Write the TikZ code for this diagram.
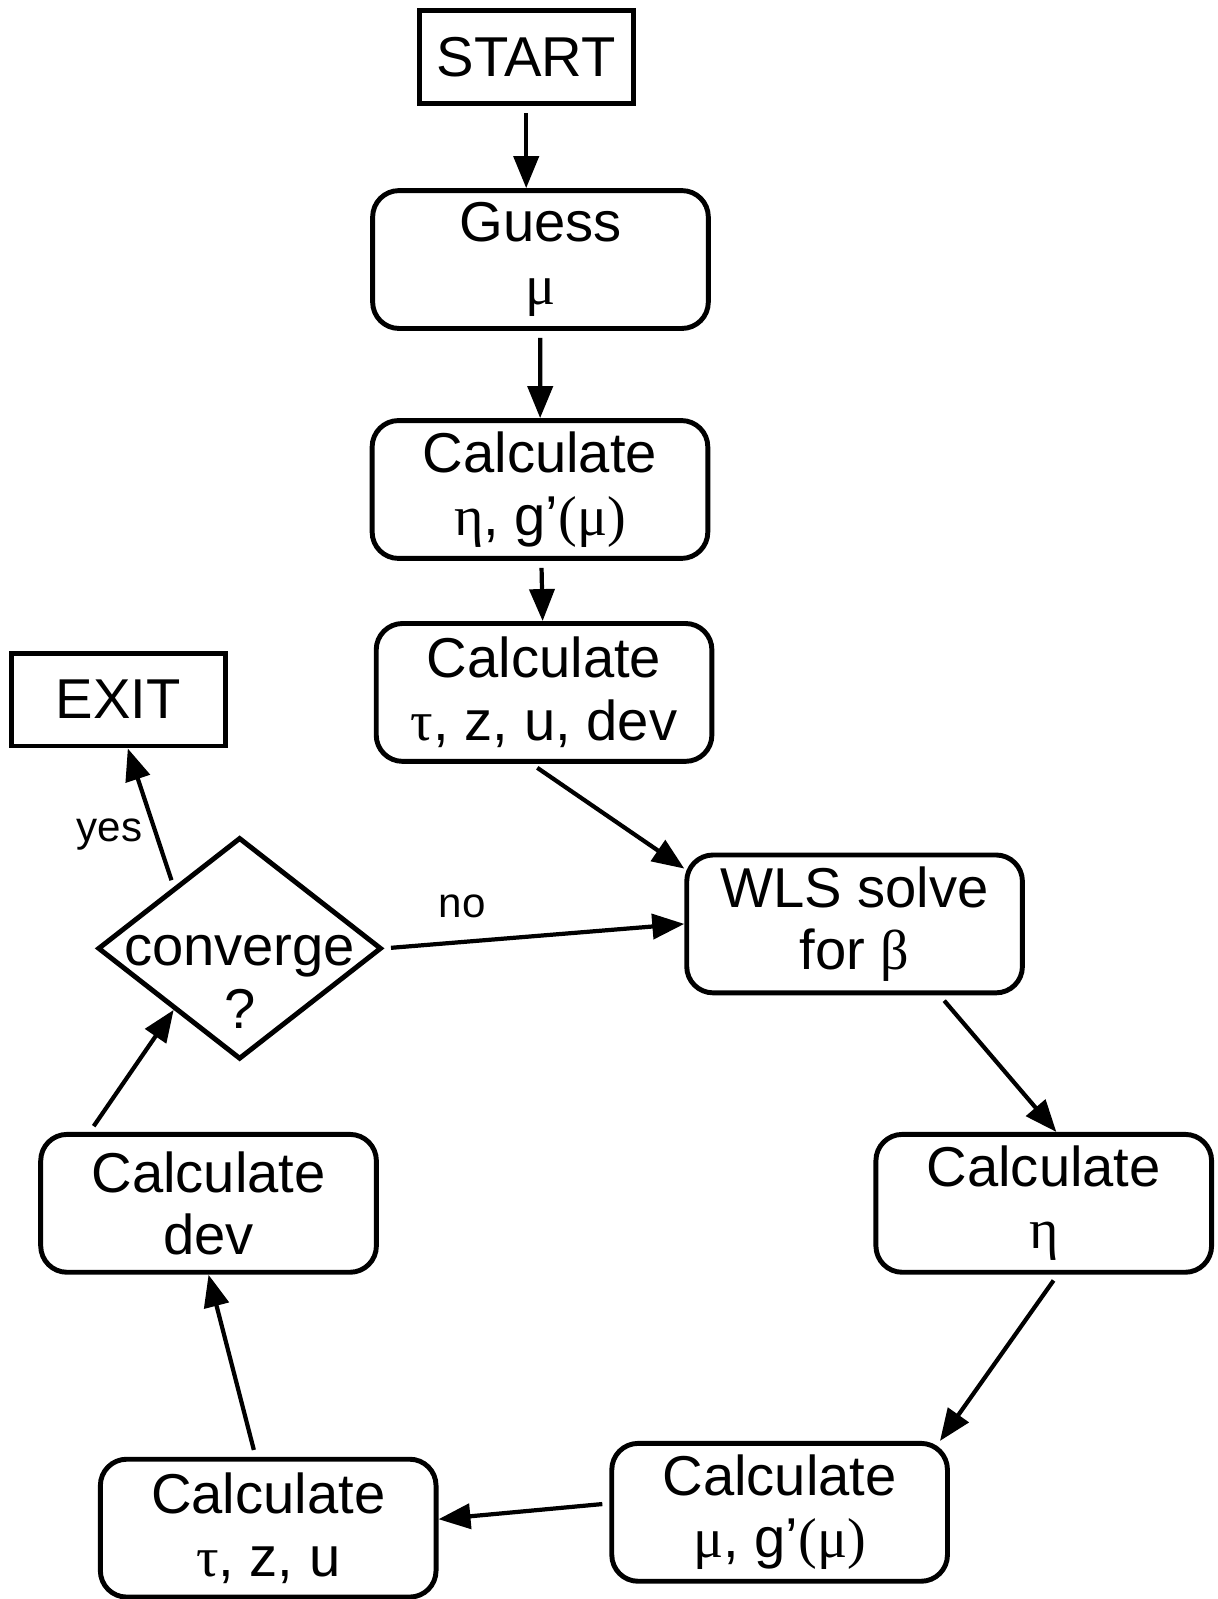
\documentclass[tikz,border=0pt]{standalone}
\usepackage{fontspec}
\setmainfont{Liberation Sans}
\newfontfamily\greekfont{Liberation Serif}
\usetikzlibrary{arrows.meta,positioning,shapes.geometric}
\newcommand{\gsym}[1]{{\greekfont #1}}

\begin{document}
\begin{tikzpicture}[
  x=0.010201cm, y=-0.010201cm,
  every node/.style={font=\fontsize{16}{17.8}\selectfont},
  terminal/.style={draw, line width=1.4pt, minimum width=2.14cm,
    minimum height=0.93cm, inner sep=0pt},
  process/.style={draw, line width=1.4pt, rounded corners=7.5pt,
    minimum width=3.36cm, minimum height=1.38cm, align=center, inner sep=0pt},
  decision/.style={draw, diamond, line width=1.4pt, minimum width=2.84cm,
    minimum height=2.22cm, inner sep=0pt},
  answer/.style={font=\fontsize{12}{14}\selectfont},
  arrow/.style={-{Triangle[length=3.2mm,width=2.5mm]}, line width=1.2pt,
    shorten <=2pt}
]
\useasboundingbox (0,0) rectangle (1194,1568);

\node[terminal] (start) at (516,56) {START};
\node[process] (guess) at (530,254.5) {Guess\\\gsym{μ}};
\node[process] (calceta) at (529.5,480) {Calculate\\\gsym{η}, g’\gsym{(μ)}};
\node[process] (calcall) at (533.5,679) {Calculate\\\gsym{τ}, z, u, dev};
\node[process] (wls) at (838,906) {WLS solve\\for \gsym{β}};
\node[process] (eta) at (1023.5,1180) {Calculate\\\gsym{η}};
\node[process] (mu) at (764.5,1483) {Calculate\\\gsym{μ}, g’\gsym{(μ)}};
\node[process] (tzu) at (263,1498.5) {Calculate\\\gsym{τ}, z, u};
\node[process] (dev) at (204.5,1180) {Calculate\\dev};
\node[decision, label={[align=center, yshift=-9.5pt]center:{converge\\?}}]
  (conv) at (235,930) {};
\node[terminal] (exit) at (116,686) {EXIT};

% main chain
\draw[arrow] (start.south) -- (start.south |- guess.north);
\draw[arrow] (guess) -- (calceta);
\draw[arrow] (calceta) -- (calcall);
\draw[arrow] (calcall.260) -- (wls.162);

% iteration loop
\draw[arrow] (wls.320) -- (eta.80);
\draw[arrow] (eta.281) -- (mu.24);
\draw[arrow] (mu.177) -- (tzu.3);
\draw[arrow] (tzu.100) -- (dev.south);
\draw[arrow] (dev.149) -- (conv.223);
\draw[arrow] (conv.east) -- node[answer, above=3pt, pos=0.26] {no} (wls.west);
\draw[arrow] (conv.137) -- node[answer, left, pos=0.38] {yes} (exit.281);
\end{tikzpicture}
\end{document}
